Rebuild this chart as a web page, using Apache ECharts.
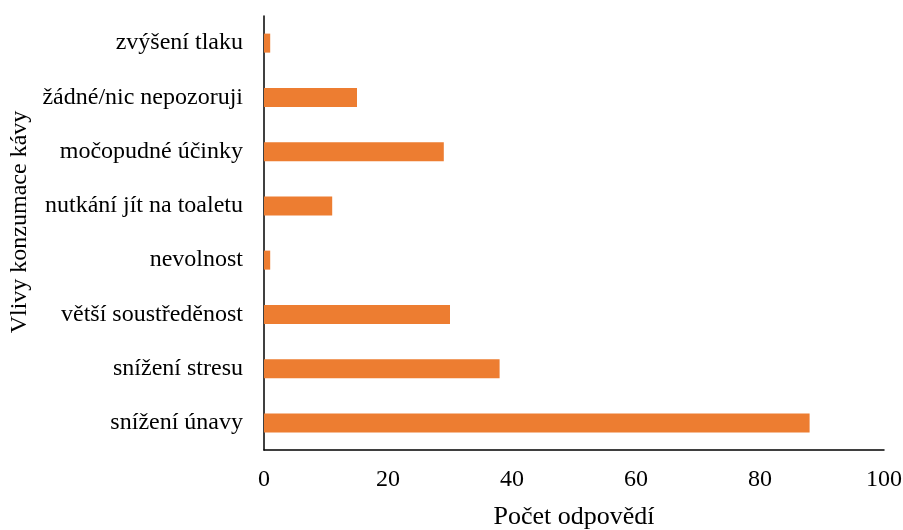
<!DOCTYPE html>
<html>
<head>
<meta charset="utf-8">
<script src="https://cdn.jsdelivr.net/npm/echarts@6/dist/echarts.min.js"></script>
<style>
  html, body { margin: 0; padding: 0; background: #fff; }
  #chart { width: 903px; height: 530px; }
</style>
</head>
<body>
<div id="chart"></div>
<script>
// categories listed bottom to top (ECharts category axis starts at the bottom)
const categories = [
  'snížení únavy',
  'snížení stresu',
  'větší soustředěnost',
  'nevolnost',
  'nutkání jít na toaletu',
  'močopudné účinky',
  'žádné/nic nepozoruji',
  'zvýšení tlaku',
]
const counts = [88, 38, 30, 1, 11, 29, 15, 1]
const xTicks = { min: 0, max: 100, interval: 20 }

const font = "'Liberation Serif', 'Times New Roman', serif"
const chart = echarts.init(document.getElementById('chart'))

chart.setOption({
  animation: false,
  textStyle: { fontFamily: font, color: '#000' },
  // fixed plot box; the "100" label is allowed to touch the right edge
  grid: { left: 264, right: 19, top: 16, bottom: 80, outerBoundsMode: 'none' },
  xAxis: {
    type: 'value',
    min: xTicks.min,
    max: xTicks.max,
    interval: xTicks.interval,
    name: 'Počet odpovědí',
    nameLocation: 'middle',
    nameGap: 54,
    nameTextStyle: { fontFamily: font, fontSize: 26, color: '#000' },
    axisLine: { show: true, lineStyle: { color: '#000', width: 1.5 } },
    axisTick: { show: false },
    splitLine: { show: false },
    axisLabel: { fontFamily: font, fontSize: 24, color: '#000', margin: 18 },
  },
  yAxis: {
    type: 'category',
    data: categories,
    name: 'Vlivy konzumace kávy',
    nameLocation: 'middle',
    nameRotate: 90,
    nameGap: 230,
    nameTextStyle: { fontFamily: font, fontSize: 24, color: '#000', padding: [0, 0, 0, 22] },
    axisLine: { show: true, lineStyle: { color: '#000', width: 1.5 } },
    axisTick: { show: false },
    axisLabel: { fontFamily: font, fontSize: 24, color: '#000', margin: 21 },
  },
  series: [
    {
      type: 'bar',
      data: counts,
      barWidth: 19,
      itemStyle: { color: '#ED7D31' },
    },
  ],
})
</script>
</body>
</html>
